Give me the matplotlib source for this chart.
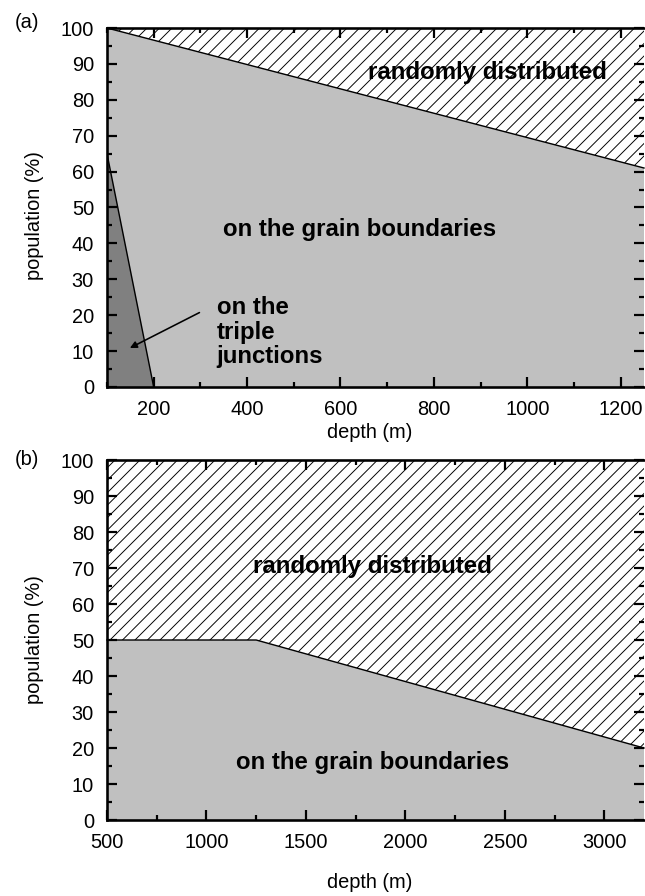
"""
Population of inclusions vs depth: two stacked area panels.
"""
import matplotlib
matplotlib.use("Agg")
import matplotlib.pyplot as plt
from matplotlib.ticker import MultipleLocator

# ------------------------------------------------------------------------------
# Data
# ------------------------------------------------------------------------------
depth_a = [100, 1250]
grain_a = [100, 61]            # upper edge of "on the grain boundaries"
triple_depth = [100, 200]
triple_pop = [65, 0]           # upper edge of "on the triple junctions"

depth_b = [500, 1250, 3200]
grain_b = [50, 50, 20]

xlim_a = (100, 1250)
xlim_b = (500, 3200)
ylim = (0, 100)

# ------------------------------------------------------------------------------
# Figure geometry in pixels
# ------------------------------------------------------------------------------
DPI = 75
W, H = 645, 896
PT = 72.0 / DPI                # points per pixel

plt.rcParams["font.family"] = ["Liberation Sans", "DejaVu Sans"]
plt.rcParams["hatch.linewidth"] = 0.9
plt.rcParams["hatch.color"] = "black"

LIGHT = "#c0c0c0"
DARK = "#808080"
HATCH = "//"

fig = plt.figure(figsize=(W / DPI, H / DPI), dpi=DPI)


def px_axes(left, top, right, bottom):
    return fig.add_axes([left / W, 1 - bottom / H, (right - left) / W, (bottom - top) / H])


def style(ax, xmaj, xmin):
    ax.set_ylim(*ylim)
    ax.xaxis.set_major_locator(MultipleLocator(xmaj))
    ax.xaxis.set_minor_locator(MultipleLocator(xmin))
    ax.yaxis.set_major_locator(MultipleLocator(10))
    ax.yaxis.set_minor_locator(MultipleLocator(5))
    ax.tick_params(which="both", direction="in", top=True, right=True,
                   width=2.2 * PT, labelsize=20 * PT, pad=13 * PT)
    ax.tick_params(which="major", length=10 * PT)
    ax.tick_params(which="minor", length=5 * PT)
    for side in ("left", "bottom", "top"):
        ax.spines[side].set_linewidth(2.6 * PT)
        ax.spines[side].set_zorder(5)
    ax.spines["right"].set_visible(False)


# ------------------------------------------------------------------------------
# Panel (a)
# ------------------------------------------------------------------------------
ax = px_axes(107, 28, 644, 387)
ax.set_xlim(*xlim_a)
ax.fill_between(depth_a, grain_a, 100, facecolor="white", hatch=HATCH,
                edgecolor="black", linewidth=0)
ax.fill_between(depth_a, 0, grain_a, facecolor=LIGHT, linewidth=0)
ax.fill_between(triple_depth, 0, triple_pop, facecolor=DARK, linewidth=0)
ax.plot(depth_a, grain_a, color="black", lw=1.4 * PT, clip_on=False, zorder=4)
ax.plot(triple_depth, triple_pop, color="black", lw=1.4 * PT, zorder=4)
style(ax, 200, 100)

bold = dict(fontsize=24 * PT, fontweight="bold", va="center")
ax.text(915, 87.5, "randomly distributed", ha="center", **bold)
ax.text(640, 44, "on the grain boundaries", ha="center", **bold)
ax.text(335, 15.3, "on the\ntriple\njunctions", ha="left", linespacing=1.1, **bold)
ax.annotate("", xy=(145, 10.6), xytext=(302, 21),
            arrowprops=dict(arrowstyle="-|>", color="black", lw=1.6 * PT,
                            mutation_scale=14 * PT))

# ------------------------------------------------------------------------------
# Panel (b)
# ------------------------------------------------------------------------------
bx = px_axes(107, 460, 644, 820)
bx.set_xlim(*xlim_b)
bx.fill_between(depth_b, grain_b, 100, facecolor="white", hatch=HATCH,
                edgecolor="black", linewidth=0)
bx.fill_between(depth_b, 0, grain_b, facecolor=LIGHT, linewidth=0)
bx.plot(depth_b, grain_b, color="black", lw=1.4 * PT, clip_on=False, zorder=4)
style(bx, 500, 250)

bx.text(1835, 70.5, "randomly distributed", ha="center", **bold)
bx.text(1835, 16, "on the grain boundaries", ha="center", **bold)

# ------------------------------------------------------------------------------
# Labels
# ------------------------------------------------------------------------------
lab = dict(fontsize=20 * PT)
fig.text(34 / W, 1 - 216 / H, "population (%)", rotation=90, ha="center", va="center", **lab)
fig.text(34 / W, 1 - 640 / H, "population (%)", rotation=90, ha="center", va="center", **lab)
fig.text(370 / W, 1 - 432 / H, "depth (m)", ha="center", va="center", **lab)
fig.text(370 / W, 1 - 882 / H, "depth (m)", ha="center", va="center", **lab)
fig.text(27 / W, 1 - 23 / H, "(a)", ha="center", va="center", **lab)
fig.text(27 / W, 1 - 460 / H, "(b)", ha="center", va="center", **lab)

fig.savefig("out.png", dpi=DPI)
